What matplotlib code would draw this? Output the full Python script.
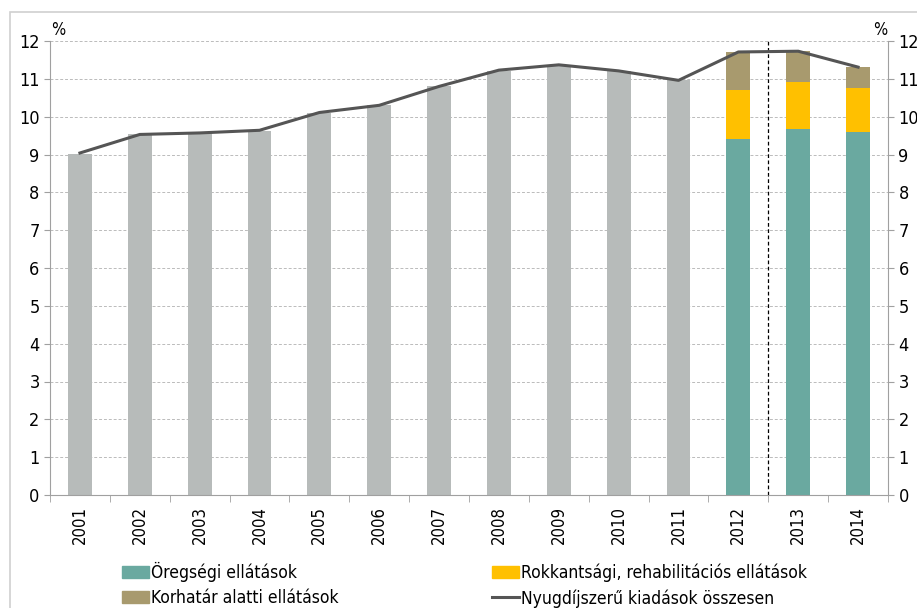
import numpy as np
import matplotlib.pyplot as plt
from matplotlib.patches import Rectangle, Patch
from matplotlib.lines import Line2D

plt.rcParams['font.family'] = ['DejaVu Sans']
plt.rcParams['font.stretch'] = 'condensed'

years = ['2001', '2002', '2003', '2004', '2005', '2006', '2007',
         '2008', '2009', '2010', '2011', '2012', '2013', '2014']
# osszes kiadas (vonal)
total = [9.04, 9.53, 9.57, 9.64, 10.11, 10.30, 10.80,
         11.23, 11.37, 11.21, 10.96, 11.71, 11.73, 11.31]
# 2001-2011 szurke oszlopok
gray_bars = [9.02, 9.54, 9.56, 9.62, 10.11, 10.30, 10.82,
             11.22, 11.36, 11.20, 10.96]
# 2012-2014 bontas
oreg = [9.42, 9.67, 9.60]
rokk = [1.28, 1.24, 1.15]
korh = [1.01, 0.82, 0.56]

c_gray = '#B7BBBA'
c_teal = '#6AA9A0'
c_yell = '#FFC000'
c_brown = '#A89A6E'
c_line = '#555555'

fig = plt.figure(figsize=(9.17, 6.08), dpi=100)
fig.patches.append(Rectangle((10/917, -0.1), 1.2, 1 - 12/608 + 0.1,
                             transform=fig.transFigure, fill=False,
                             edgecolor='#D0D0D0', lw=1.2))

ax = fig.add_axes([50/917, 113/608, 838/917, 454/608])
x = np.arange(len(years))
w = 0.4

ax.bar(x[:11], gray_bars, w, color=c_gray, zorder=2)
ax.bar(x[11:], oreg, w, color=c_teal, zorder=2)
ax.bar(x[11:], rokk, w, bottom=oreg, color=c_yell, zorder=2)
ax.bar(x[11:], korh, w, bottom=np.add(oreg, rokk), color=c_brown, zorder=2)
ax.plot(x, total, color=c_line, lw=2.2, zorder=3)
ax.axvline(11.5, color='black', ls=(0, (3, 2)), lw=0.9, zorder=1)

ax.set_xlim(-0.5, len(years) - 0.5)
ax.set_ylim(0, 12)
ax.set_yticks(range(13))
ax.yaxis.grid(True, color='#BBBBBB', ls=(0, (3, 2)), lw=0.7)
ax.set_axisbelow(True)
for s in ['left', 'right', 'bottom']:
    ax.spines[s].set_color('#A0A0A0')
ax.spines['top'].set_visible(False)

ax.set_xticks(x)
ax.set_xticklabels(years, rotation=90, fontsize=12)
ax.set_xticks(np.arange(-0.5, len(years)), minor=True)
ax.tick_params(axis='x', which='major', length=0, pad=8)
ax.tick_params(axis='x', which='minor', length=5, color='#A0A0A0')
ax.tick_params(axis='y', labelsize=13, length=4, color='#A0A0A0',
               right=True, labelright=True, direction='out')

fig.text(58/917, 1 - 30/608, '%', fontsize=12, ha='center', va='center')
fig.text(880/917, 1 - 30/608, '%', fontsize=12, ha='center', va='center')

# sorrend: oszloponkent toltodik
handles = [Patch(color=c_teal), Patch(color=c_brown),
           Patch(color=c_yell), Line2D([], [], color=c_line, lw=2.2)]
labels = ['Öregségi ellátások', 'Korhatár alatti ellátások',
          'Rokkantsági, rehabilitációs ellátások', 'Nyugdíjszerű kiadások összesen']
leg = fig.legend(handles, labels, ncol=2, loc='lower left',
                 bbox_to_anchor=(106/917, -0.025), frameon=False, fontsize=12.5,
                 handlelength=1.6, handletextpad=0.1, columnspacing=8.8,
                 labelspacing=0.4)

fig.savefig('out.png', dpi=100)
